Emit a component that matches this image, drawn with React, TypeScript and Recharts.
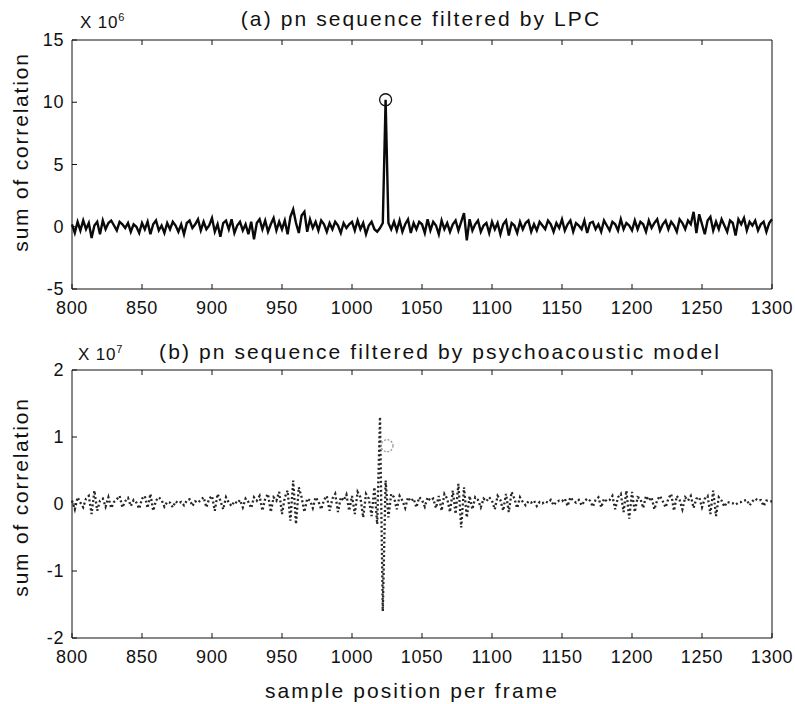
import { LineChart, Line, XAxis, YAxis, ReferenceDot } from "recharts";

// sample axis: 800..1300, one value every 2 samples
const SAMPLE_START = 800;
const SAMPLE_STEP = 2;

const xTicks = [800, 850, 900, 950, 1000, 1050, 1100, 1150, 1200, 1250, 1300];
const lpcTicks = [-5, 0, 5, 10, 15];
const psyTicks = [-2, -1, 0, 1, 2];

// (a) pn sequence filtered by LPC, x 10^6
const lpcValues = [
  0.2, -0.5, 0.4, -0.3, 0.5, -0.2, 0.3, -0.9, 0.1, 0.4, -0.6, 0.5, -0.2, 0.3, 0.5, 0.1, -0.3, 0.4, 0.2, -0.1, 0.3, -0.4, 0.2, 0.0, -0.5,
  0.3, -0.2, 0.4, -0.6, 0.2, 0.5, -0.3, 0.1, -0.5, 0.3, -0.2, 0.4, 0.1, -0.4, 0.2, -0.6, 0.3, 0.5, -0.1, 0.2, 0.6, -0.3, 0.4, -0.2, 0.1,
  0.7, -0.4, 0.2, -0.8, 0.3, 0.5, -0.2, 0.6, -0.5, 0.1, 0.4, -0.3, 0.2, -0.6, 0.4, -1.0, 0.3, 0.6, -0.2, 0.5, -0.4, 0.2, 0.7, -0.3, 0.4,
  -0.2, 0.5, -0.6, 0.8, 1.4, 0.3, -0.5, 0.9, 1.2, -0.4, 0.6, -0.1, 0.4, -0.3, 0.5, 0.2, -0.4, 0.3, -0.2, 0.4, 0.1, -0.5, 0.3, -0.1, 0.2,
  0.4, -0.3, 0.5, -0.2, 0.3, -0.6, 0.1, 0.4, -0.2, -0.4, -0.1, 0.3, 10.2, 0.3, -0.2, 0.4, -0.3, 0.5, -0.4, 0.2, 0.6, -0.5, 0.3, -0.2, 0.4,
  0.2, -0.5, 0.6, -0.3, 0.4, 0.1, -0.6, 0.5, -0.2, 0.3, -0.4, 0.2, 0.5, -0.3, 0.4, 1.1, -1.1, 0.6, -0.3, 0.2, 0.5, -0.4, 0.1, 0.3, -0.5,
  0.4, -0.2, 0.3, -0.6, 0.2, 0.5, -0.7, 0.3, 0.1, -0.5, 0.4, -0.2, 0.3, 0.5, -0.4, 0.2, -0.3, 0.4, 0.1, -0.2, 0.5, 0.2, -0.4, 0.3, -0.1,
  0.6, -0.3, 0.2, 0.5, -0.4, 0.3, 0.1, -0.2, 0.5, -0.5, 0.3, 0.4, -0.2, 0.2, -0.4, 0.5, 0.1, -0.3, 0.4, 0.2, -0.3, 0.6, -0.2, 0.3, 0.1,
  -0.3, 0.5, -0.2, 0.4, 0.2, -0.4, 0.5, -0.1, 0.3, 0.6, -0.3, 0.2, 0.5, -0.2, 0.4, 0.1, -0.4, 0.6, 0.3, -0.2, 0.5, 0.2, 1.2, -0.5, 1.0,
  0.2, -0.6, 0.5, 0.8, -0.3, 0.4, -0.2, 0.6, 0.1, -0.4, 0.5, 0.3, -0.7, 0.6, 0.2, 0.7, -0.3, 0.4, 0.1, 0.5, -0.3, 0.2, 0.4, -0.4, 0.3,
  0.6,
];

// (b) pn sequence filtered by psychoacoustic model, x 10^7
const psyValues = [
  0.05, -0.08, 0.1, 0.02, -0.05, 0.08, 0.12, -0.15, 0.2, -0.1, 0.05, 0.08, -0.04, 0.1, -0.06, 0.03, 0.07, 0.12, -0.05, 0.04, 0.09, -0.03, 0.06, 0.02, -0.07,
  0.08, 0.12, -0.06, 0.15, -0.1, 0.05, 0.1, 0.06, -0.04, 0.03, 0.02, -0.05, 0.04, 0.01, 0.03, -0.02, 0.05, 0.07, -0.03, 0.04, 0.02, 0.06, 0.1, -0.05, 0.08,
  0.12, -0.1, 0.15, 0.05, -0.08, 0.1, 0.02, -0.03, 0.04, 0.01, 0.06, -0.05, 0.08, 0.03, -0.06, 0.1, 0.05, 0.12, -0.1, 0.08, 0.15, -0.12, 0.1, 0.05, 0.18,
  -0.15, 0.1, 0.2, -0.25, 0.35, -0.3, 0.25, 0.1, -0.12, 0.08, 0.05, -0.06, 0.1, 0.04, -0.08, 0.06, 0.12, -0.1, 0.08, 0.15, -0.12, 0.1, 0.05, 0.14, -0.1,
  0.12, -0.15, 0.18, 0.1, -0.2, 0.15, 0.08, -0.18, 0.25, -0.3, 1.3, -1.6, 0.35, -0.2, 0.15, 0.1, -0.08, 0.12, 0.05, -0.06, 0.1, 0.04, 0.08, -0.05, 0.1,
  0.06, -0.04, 0.1, 0.05, 0.08, -0.06, 0.12, -0.1, 0.15, 0.08, -0.12, 0.2, -0.15, 0.3, -0.35, 0.25, -0.2, 0.12, -0.08, 0.1, 0.06, -0.05, 0.08, 0.04, 0.1,
  0.05, -0.08, 0.12, 0.06, -0.1, 0.15, -0.12, 0.18, 0.08, -0.06, 0.1, 0.03, -0.02, 0.04, 0.02, 0.05, -0.03, 0.03, 0.01, 0.04, 0.02, 0.06, -0.02, 0.03, 0.05,
  0.04, 0.08, -0.03, 0.1, 0.05, 0.02, 0.06, -0.02, 0.04, 0.08, 0.05, -0.04, 0.06, 0.1, -0.05, 0.08, 0.04, 0.06, 0.12, -0.08, 0.1, 0.15, -0.12, 0.2, -0.22,
  0.18, -0.12, 0.1, 0.08, -0.06, 0.12, 0.05, 0.1, -0.08, 0.06, 0.12, 0.04, -0.05, 0.08, 0.15, -0.1, 0.12, 0.06, -0.08, 0.1, 0.05, 0.12, -0.06, 0.08, 0.1,
  -0.05, 0.08, 0.12, -0.15, 0.2, -0.18, 0.1, 0.05, -0.04, 0.03, 0.02, 0.01, -0.01, 0.02, 0.03, 0.05, 0.06, -0.02, 0.04, 0.08, 0.05, 0.06, -0.03, 0.05, 0.04,
  0.04,
];

// circled maxima
const lpcPeak = { x: 1024, y: 10.2 };
const psyPeak = { x: 1025, y: 0.87 };

const FONT = "'Liberation Sans', Arial, sans-serif";
const INK = "#111";
const TICK_LEN = 5;

const toRows = (vals: number[]) =>
  vals.map((v, i) => ({ pos: SAMPLE_START + i * SAMPLE_STEP, v }));

// axis ticks drawn inward, matlab style (tickSize/tickMargin = 0 so x,y sit on the axis line)
function BottomTick({ x, y, payload }: any) {
  return (
    <g>
      <line x1={x} y1={y} x2={x} y2={y - TICK_LEN} stroke={INK} />
      <text x={x} y={y + 19} textAnchor="middle" dominantBaseline="central" fontSize={18} letterSpacing={0.6} fill={INK} fontFamily={FONT}>
        {payload.value}
      </text>
    </g>
  );
}
function TopTick({ x, y }: any) {
  return <line x1={x} y1={y} x2={x} y2={y + TICK_LEN} stroke={INK} />;
}
function LeftTick({ x, y, payload }: any) {
  return (
    <g>
      <line x1={x} y1={y} x2={x + TICK_LEN} y2={y} stroke={INK} />
      <text x={x - 8} y={y} textAnchor="end" dominantBaseline="central" fontSize={18} letterSpacing={0.6} fill={INK} fontFamily={FONT}>
        {payload.value}
      </text>
    </g>
  );
}
function RightTick({ x, y }: any) {
  return <line x1={x} y1={y} x2={x - TICK_LEN} y2={y} stroke={INK} />;
}

function Panel({ data, yTicks, peak, top, height, marginTop, marginBottom, dotted }: any) {
  const yDomain = [yTicks[0], yTicks[yTicks.length - 1]];
  return (
    <div style={{ position: "absolute", left: 0, top, width: 795, height }}>
      <LineChart
        width={795}
        height={height}
        data={data}
        margin={{ top: marginTop, right: 22, bottom: marginBottom, left: 0 }}
      >
        <XAxis
          xAxisId="b"
          dataKey="pos"
          type="number"
          domain={[800, 1300]}
          ticks={xTicks}
          interval={0}
          height={31}
          tickSize={0}
          tickMargin={0}
          tickLine={false}
          axisLine={{ stroke: INK }}
          tick={<BottomTick />}
        />
        <XAxis
          xAxisId="t"
          dataKey="pos"
          type="number"
          orientation="top"
          domain={[800, 1300]}
          ticks={xTicks.slice(1, -1)}
          interval={0}
          height={1}
          tickSize={0}
          tickMargin={0}
          tickLine={false}
          axisLine={{ stroke: INK }}
          tick={<TopTick />}
        />
        <YAxis
          yAxisId="l"
          type="number"
          domain={yDomain}
          ticks={yTicks}
          interval={0}
          width={72}
          tickSize={0}
          tickMargin={0}
          tickLine={false}
          axisLine={{ stroke: INK }}
          tick={<LeftTick />}
        />
        <YAxis
          yAxisId="r"
          orientation="right"
          type="number"
          domain={yDomain}
          ticks={yTicks.slice(1, -1)}
          interval={0}
          width={1}
          tickSize={0}
          tickMargin={0}
          tickLine={false}
          axisLine={{ stroke: INK }}
          tick={<RightTick />}
        />
        <Line
          xAxisId="b"
          yAxisId="l"
          dataKey="v"
          type="linear"
          stroke={dotted ? "#262626" : "#0a0a0a"}
          strokeWidth={dotted ? 2.3 : 2.4}
          strokeDasharray={dotted ? "2 2.5" : undefined}
          dot={false}
          isAnimationActive={false}
        />
        <ReferenceDot
          xAxisId="b"
          yAxisId="l"
          x={peak.x}
          y={peak.y}
          r={6}
          fill="#fff"
          fillOpacity={0}
          stroke={dotted ? "#999" : INK}
          strokeWidth={1.3}
          strokeDasharray={dotted ? "2 1.5" : undefined}
        />
      </LineChart>
    </div>
  );
}

const textStyle = { position: "absolute" as const, fontFamily: FONT, color: INK, whiteSpace: "nowrap" as const, lineHeight: 1 };

export default function App() {
  return (
    <div style={{ position: "absolute", left: 0, top: 0, width: 795, height: 704, background: "#fff" }}>
      <Panel data={toRows(lpcValues)} yTicks={lpcTicks} peak={lpcPeak} top={0} height={320} marginTop={39} marginBottom={0} />
      <Panel data={toRows(psyValues)} yTicks={psyTicks} peak={psyPeak} top={340} height={340} marginTop={29} marginBottom={11} dotted />

      <div style={{ ...textStyle, left: 80, top: 12, fontSize: 17, letterSpacing: 0.8 }}>
        X 10<sup style={{ fontSize: 11 }}>6</sup>
      </div>
      <div style={{ ...textStyle, left: 421, top: 8, fontSize: 21, letterSpacing: 2.1, transform: "translateX(-50%)" }}>
        (a) pn sequence filtered by LPC
      </div>
      <div style={{ ...textStyle, left: 78, top: 344, fontSize: 17, letterSpacing: 0.8 }}>
        X 10<sup style={{ fontSize: 11 }}>7</sup>
      </div>
      <div style={{ ...textStyle, left: 440, top: 341, fontSize: 21, letterSpacing: 2.1, transform: "translateX(-50%)" }}>
        (b) pn sequence filtered by psychoacoustic model
      </div>

      <div style={{ ...textStyle, left: 20, top: 152, fontSize: 21, letterSpacing: 1.8, transform: "translate(-50%, -50%) rotate(-90deg)" }}>
        sum of correlation
      </div>
      <div style={{ ...textStyle, left: 20, top: 497, fontSize: 21, letterSpacing: 1.8, transform: "translate(-50%, -50%) rotate(-90deg)" }}>
        sum of correlation
      </div>
      <div style={{ ...textStyle, left: 412, top: 680, fontSize: 21, letterSpacing: 2.1, transform: "translateX(-50%)" }}>
        sample position per frame
      </div>
    </div>
  );
}
